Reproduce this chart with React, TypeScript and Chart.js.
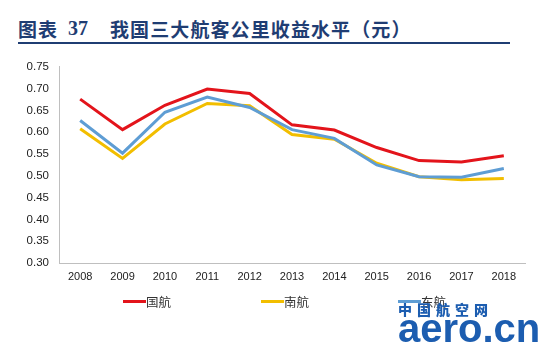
import React, { useEffect, useRef } from "react";
import { Chart, registerables } from "chart.js";

Chart.register(...registerables);

const years = ["2008", "2009", "2010", "2011", "2012", "2013", "2014", "2015", "2016", "2017", "2018"];
const airChina = [0.676, 0.606, 0.662, 0.699, 0.689, 0.617, 0.605, 0.565, 0.535, 0.532, 0.546];
const chinaSouthern = [0.608, 0.540, 0.619, 0.666, 0.661, 0.595, 0.584, 0.529, 0.498, 0.491, 0.494];
const chinaEastern = [0.627, 0.552, 0.646, 0.681, 0.657, 0.606, 0.586, 0.525, 0.498, 0.497, 0.517];
const seriesNames = ["国航", "南航", "东航"];
const seriesColors = ["#E3141B", "#F2BE00", "#5E9DD4"];
const yMin = 0.3;
const yMax = 0.75;
const yStep = 0.05;

const TITLE_COLOR = "#1F3D73";

export default function App() {
  const ref = useRef<HTMLCanvasElement | null>(null);

  useEffect(() => {
    if (!ref.current) return;
    const chart = new Chart(ref.current, {
      type: "line",
      data: {
        labels: years,
        datasets: [
          { label: seriesNames[0], data: airChina, borderColor: seriesColors[0], backgroundColor: seriesColors[0], order: 0 },
          { label: seriesNames[1], data: chinaSouthern, borderColor: seriesColors[1], backgroundColor: seriesColors[1], order: 2 },
          { label: seriesNames[2], data: chinaEastern, borderColor: seriesColors[2], backgroundColor: seriesColors[2], order: 1 },
        ].map((d) => ({ ...d, borderWidth: 3, pointRadius: 0, tension: 0, fill: false })),
      },
      options: {
        animation: false,
        responsive: false,
        maintainAspectRatio: false,
        layout: { padding: { left: 0, right: 28, top: 13, bottom: 0 } },
        plugins: { legend: { display: false }, title: { display: false }, tooltip: { enabled: false } },
        scales: {
          x: {
            offset: true,
            grid: { display: false, drawTicks: false },
            border: { display: true, color: "#BFBFBF", width: 1 },
            ticks: { color: "#222", font: { family: "Liberation Sans", size: 11 }, padding: 7, maxRotation: 0 },
            afterFit: (s: any) => { s.height = 32; },
          },
          y: {
            min: yMin,
            max: yMax,
            grid: { display: false, drawTicks: false },
            border: { display: true, color: "#BFBFBF", width: 1 },
            ticks: {
              stepSize: yStep,
              color: "#222",
              font: { family: "Liberation Sans", size: 11.5 },
              padding: 10,
              callback: (v: any) => Number(v).toFixed(2),
            },
            afterFit: (s: any) => { s.width = 59; },
          },
        },
      },
    });
    return () => chart.destroy();
  }, []);

  const legendItems = [
    { x: 123, name: seriesNames[0], color: seriesColors[0] },
    { x: 261, name: seriesNames[1], color: seriesColors[1] },
    { x: 398, name: seriesNames[2], color: seriesColors[2] },
  ];

  return (
    <div style={{ position: "absolute", left: 0, top: 0, width: 553, height: 351, background: "#fff", overflow: "hidden" }}>
      <div style={{ position: "absolute", left: 18, top: 19, fontFamily: "'Noto Sans CJK SC'", fontWeight: 700, fontSize: 19, lineHeight: "19px", letterSpacing: 1, color: TITLE_COLOR, whiteSpace: "nowrap" }}>图表</div>
      <div style={{ position: "absolute", left: 68, top: 19, fontFamily: "'Liberation Serif'", fontWeight: 700, fontSize: 20, lineHeight: "19px", color: TITLE_COLOR, whiteSpace: "nowrap" }}>37</div>
      <div style={{ position: "absolute", left: 110, top: 19, fontFamily: "'Noto Sans CJK SC'", fontWeight: 700, fontSize: 19, lineHeight: "19px", letterSpacing: 1.1, color: TITLE_COLOR, whiteSpace: "nowrap" }}>我国三大航客公里收益水平（元）</div>
      <div style={{ position: "absolute", left: 18, top: 42, width: 492, height: 2, background: TITLE_COLOR }} />
      <canvas ref={ref} width={553} height={245} style={{ position: "absolute", left: 0, top: 50, width: 553, height: 245 }} />
      {legendItems.map((it) => (
        <React.Fragment key={it.name}>
          <div style={{ position: "absolute", left: it.x, top: 300, width: 23, height: 3, background: it.color }} />
          <div style={{ position: "absolute", left: it.x + 23, top: 293, fontFamily: "'Noto Sans CJK SC'", fontSize: 12.5, lineHeight: "17px", color: "#333", whiteSpace: "nowrap" }}>{it.name}</div>
        </React.Fragment>
      ))}
      <div style={{ position: "absolute", left: 398, top: 302, fontFamily: "'Noto Sans CJK SC'", fontWeight: 900, fontSize: 14, lineHeight: "15px", letterSpacing: 5, color: "#1C5DB0", whiteSpace: "nowrap" }}>中国航空网</div>
      <div style={{ position: "absolute", left: 398, top: 305, fontFamily: "'Liberation Sans'", fontWeight: 700, fontSize: 40, lineHeight: "46px", color: "#1C5DB0", whiteSpace: "nowrap" }}>aero.cn</div>
    </div>
  );
}
